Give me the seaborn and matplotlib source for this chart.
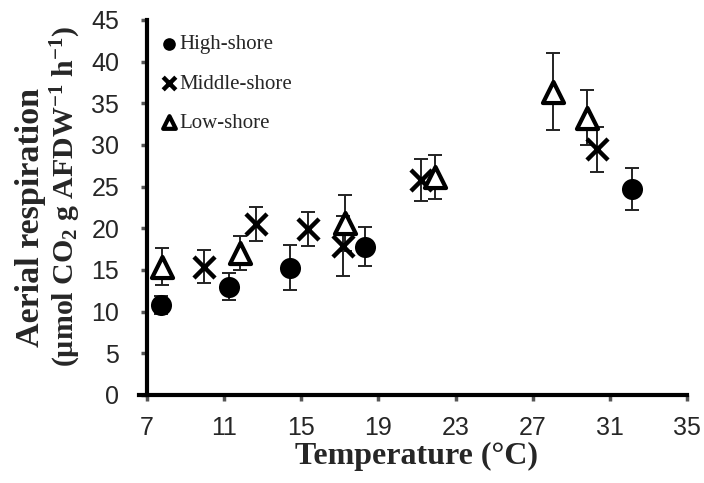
import matplotlib
matplotlib.use("Agg")
import matplotlib.pyplot as plt
import seaborn as sns
import pandas as pd

# Data
high_temp = [7.75, 11.25, 14.4, 18.3, 32.15]
high_resp = [10.8, 13.0, 15.25, 17.8, 24.7]
high_err = [1.1, 1.6, 2.7, 2.35, 2.55]

mid_temp = [9.95, 12.65, 15.35, 17.15, 21.2, 30.35]
mid_resp = [15.4, 20.5, 19.9, 17.9, 25.8, 29.5]
mid_err = [1.95, 2.0, 2.05, 3.6, 2.55, 2.7]

low_temp = [7.8, 11.8, 17.25, 21.95, 28.05, 29.8]
low_resp = [15.4, 17.05, 20.65, 26.2, 36.4, 33.25]
low_err = [2.25, 2.0, 3.4, 2.65, 4.6, 3.3]

x_ticks = [7, 11, 15, 19, 23, 27, 31, 35]
y_ticks = [0, 5, 10, 15, 20, 25, 30, 35, 40, 45]

sns.set_theme(style="ticks")
plt.rcParams['font.family'] = ['Liberation Sans', 'DejaVu Sans']
plt.rcParams['mathtext.fontset'] = 'custom'
plt.rcParams['mathtext.rm'] = 'Liberation Serif:bold'
plt.rcParams['mathtext.bf'] = 'Liberation Serif:bold'
plt.rcParams['mathtext.it'] = 'Liberation Serif:bold'
plt.rcParams['mathtext.default'] = 'rm'

fig = plt.figure(figsize=(7.04, 4.83), dpi=100)
ax = fig.add_axes([0.2088, 0.1822, 0.767, 0.7764])

series = [
    ("High-shore", high_temp, high_resp, high_err, dict(marker='o', color='black', edgecolor='black', s=230, linewidth=0)),
    ("Middle-shore", mid_temp, mid_resp, mid_err, dict(marker='x', color='black', s=230, linewidth=3.2)),
    ("Low-shore", low_temp, low_resp, low_err, dict(marker='^', color='white', edgecolor='black', s=230, linewidth=3.0)),
]

for label, xt, yr, er, kw in series:
    ax.errorbar(xt, yr, yerr=er, fmt='none', ecolor='#222222', elinewidth=1.4,
                capsize=5, capthick=1.4, zorder=2)
    df = pd.DataFrame({"Temperature": xt, "Resp": yr})
    sns.scatterplot(data=df, x="Temperature", y="Resp", ax=ax, label=label, zorder=3, **kw)

ax.set_xlim(7, 35)
ax.set_ylim(0, 45)
ax.set_xticks(x_ticks)
ax.set_yticks(y_ticks)
ax.tick_params(axis='both', labelsize=18, length=4, width=2.5, color='#555555')
ax.tick_params(axis='x', pad=11)
ax.tick_params(axis='y', pad=16)

for side in ['top', 'right']:
    ax.spines[side].set_visible(False)
for side in ['left', 'bottom']:
    ax.spines[side].set_linewidth(3)
    ax.spines[side].set_color('black')
ax.spines['bottom'].set_bounds(6.6, 35)

ax.set_xlabel("Temperature (°C)", fontfamily='Liberation Serif', fontweight='bold', fontsize=23, labelpad=0)
ax.xaxis.set_label_coords(0.5, -0.125)
ax.xaxis.label.set_va('top')
ax.set_ylabel("")
fig.text(0.044, 0.55, "Aerial respiration", rotation=90, ha='center', va='center',
         fontfamily='Liberation Serif', fontweight='bold', fontsize=24.5)
fig.text(0.094, 0.594, "(µmol CO$_2$ g AFDW$^{-1}$ h$^{-1}$)", rotation=90, ha='center', va='center',
         fontfamily='Liberation Serif', fontweight='bold', fontsize=21.5)

leg = ax.legend(loc='upper left', frameon=False, prop={'family': 'Liberation Serif', 'size': 15},
                handletextpad=-0.5, labelspacing=0.95, borderaxespad=0.3, markerscale=0.6,
                bbox_to_anchor=(-0.025, 1.0))

fig.savefig("out.png", dpi=100)
